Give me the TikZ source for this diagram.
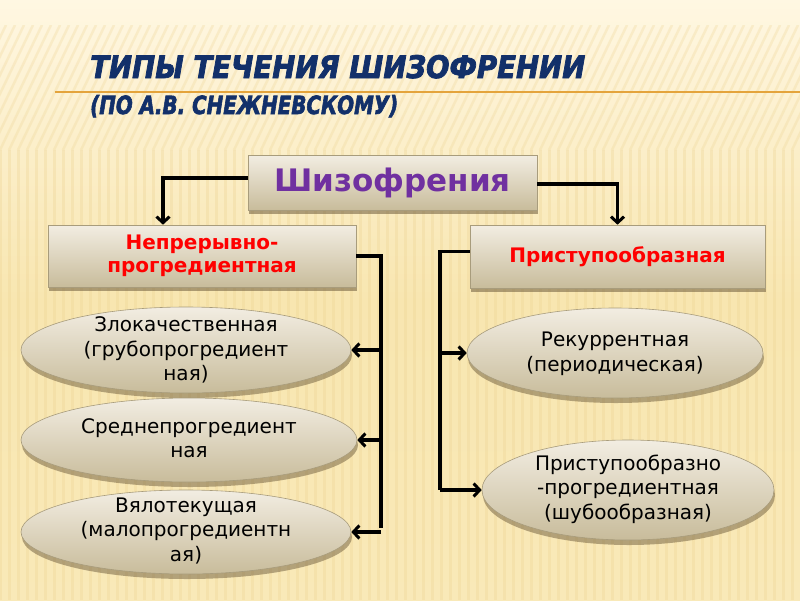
\documentclass[tikz,border=0pt]{standalone}
\usepackage{fontspec}
\setmainfont{DejaVu Sans}
\newfontfamily\titlefont{DejaVu Sans Condensed}[FakeBold=2.5]
\usetikzlibrary{shapes.geometric,shadows,arrows.meta}

\definecolor{bgtop}{HTML}{FFF7E2}
\definecolor{bgmid}{HTML}{F8E6B0}
\definecolor{bgbot}{HTML}{F9E9B8}
\definecolor{stripe}{HTML}{EED596}
\definecolor{titleblue}{HTML}{12306A}
\definecolor{boxtop}{HTML}{F2EDE2}
\definecolor{boxbot}{HTML}{C8BC9B}
\definecolor{boxline}{HTML}{A89C7C}
\definecolor{purp}{HTML}{7030A0}
\definecolor{rulecol}{HTML}{E4A43C}
\definecolor{shadowcol}{HTML}{6E5C3C}

\tikzset{
  rectbox/.style={draw=boxline, line width=0.6pt, top color=boxtop, bottom color=boxbot,
    inner sep=0pt, align=center,
    drop shadow={shadow xshift=1pt, shadow yshift=-4pt, fill=shadowcol, opacity=0.55}},
  ovalbox/.style={ellipse, draw=boxline, line width=0.6pt, top color=boxtop, bottom color=boxbot,
    inner sep=0pt,
    drop shadow={shadow xshift=1pt, shadow yshift=-5pt, fill=shadowcol, opacity=0.5}},
  ovaltext/.style={align=center, font=\fontsize{20}{24.5}\selectfont, text=black},
  redtext/.style={text=red, font=\fontsize{20}{23}\selectfont\bfseries},
  link/.style={line width=3.2pt, black},
  conn/.style={link, -{Straight Barb[length=6pt,width=13pt,line width=3pt]}},
}

\begin{document}
\begin{tikzpicture}[x=1pt,y=-1pt]
% background
\useasboundingbox (0,0) rectangle (800,600);
\shade[top color=bgtop, bottom color=bgmid] (0,0) rectangle (800,300);
\shade[top color=bgmid, bottom color=bgbot] (0,300) rectangle (800,600);
\begin{scope}
  \clip (0,25) rectangle (800,150);
  \foreach \i in {-20,...,100} {
    \draw[stripe, line width=2.5pt, opacity=0.3] (\i*9,150) -- (\i*9+60,25);
  }
\end{scope}
\foreach \i in {0,...,89} {
  \draw[stripe, line width=3pt, opacity=0.35] (\i*9,150) -- (\i*9,600);
}

% title
\draw[rulecol, line width=1.2pt] (55,92) -- (800,92);
\node[anchor=base west, inner sep=0pt, text=titleblue] (title1) at (90,78)
  {\resizebox{495pt}{23pt}{\titlefont\bfseries\itshape ТИПЫ ТЕЧЕНИЯ ШИЗОФРЕНИИ}};
\node[anchor=base west, inner sep=0pt, text=titleblue] (title2) at (90,114)
  {\resizebox{308pt}{19pt}{\titlefont\bfseries\itshape (ПО А.В. СНЕЖНЕВСКОМУ)}};

% boxes
\node[rectbox, minimum width=289pt, minimum height=55pt, text=purp,
      font=\fontsize{31}{34}\selectfont\bfseries] (top) at (392.5,182.5) {Шизофрения};
\node[rectbox, minimum width=308pt, minimum height=62pt, redtext] (left) at (202,256)
  {Непрерывно-\\прогредиентная};
\node[rectbox, minimum width=295pt, minimum height=63pt, redtext] (right) at (617.5,256.5)
  {Приступообразная};

% ellipses
\node[ovalbox, minimum width=330pt, minimum height=86pt] (e1) at (186,350) {};
\node[ovalbox, minimum width=336pt, minimum height=84pt] (e2) at (189,440) {};
\node[ovalbox, minimum width=330pt, minimum height=84pt] (e3) at (186,532) {};
\node[ovalbox, minimum width=296pt, minimum height=90pt] (e4) at (615,353) {};
\node[ovalbox, minimum width=292pt, minimum height=100pt] (e5) at (628,490) {};

\node[ovaltext] (t1) at (186,350) {Злокачественная\\(грубопрогредиент\\ная)};
\node[ovaltext] (t2) at (189,438) {Среднепрогредиент\\ная};
\node[ovaltext] (t3) at (186,531) {Вялотекущая\\(малопрогредиентн\\ая)};
\node[ovaltext] (t4) at (615,354) {Рекуррентная\\(периодическая)};
\node[ovaltext] (t5) at (628,489) {Приступообразно\\-прогредиентная\\(шубообразная)};

% connectors
\coordinate (lbus) at (381,528);
\coordinate (rbus) at (440,490);
\draw[conn] ([yshift=4.5pt]top.west) -| ([xshift=-39pt]left.north);
\draw[conn] ([yshift=-1.5pt]top.east) -| (right.north);
\draw[link] (left.east) -| (lbus);
\draw[link] ([yshift=5pt]right.west) -| (rbus);
\draw[conn] (lbus |- e1) -- (e1.east);
\draw[conn] (lbus |- e2) -- (e2.east);
\draw[conn] (lbus |- e3) -- (e3.east);
\draw[conn] (rbus |- e4) -- (e4.west);
\draw[conn] (rbus |- e5) -- (e5.west);
\end{tikzpicture}
\end{document}
